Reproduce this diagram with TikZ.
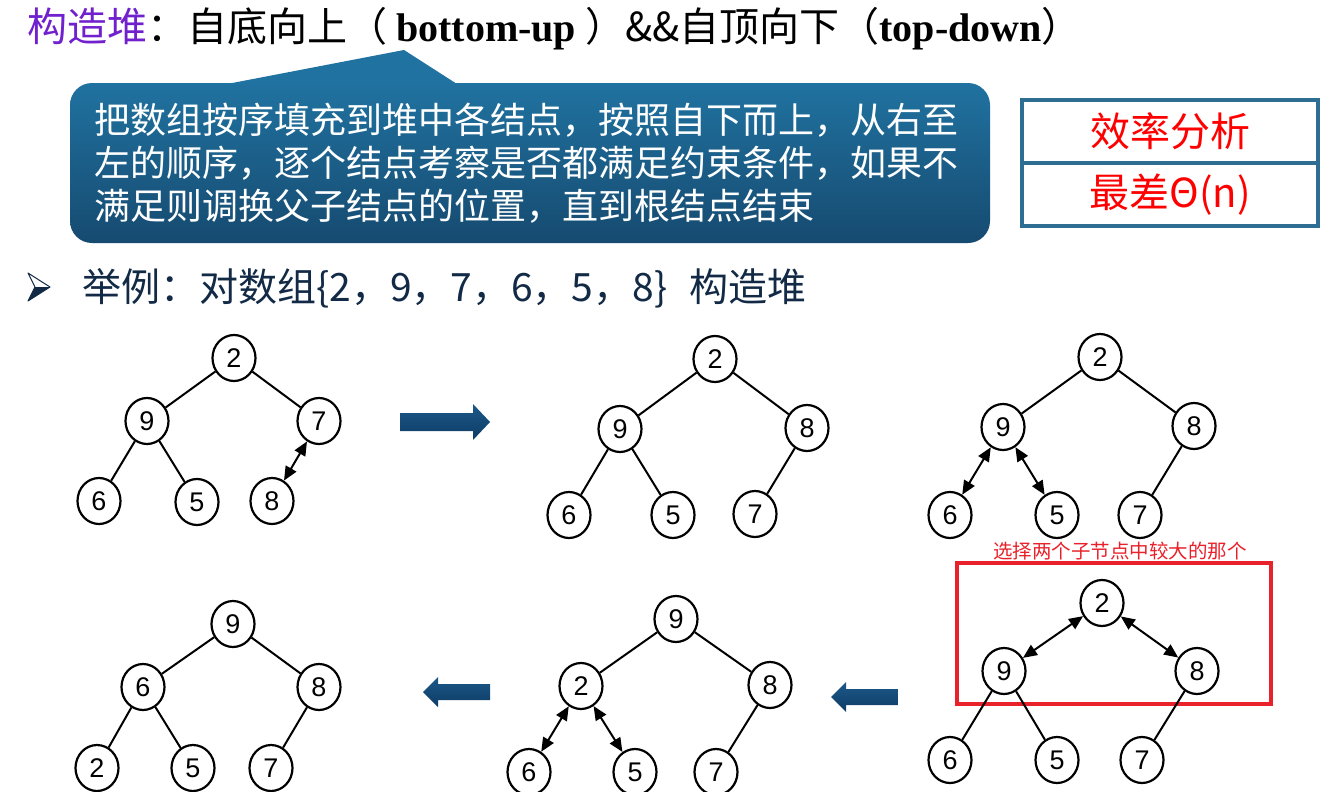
\documentclass[tikz,border=0pt]{standalone}
\usepackage{fontspec}
\setmainfont{Noto Sans CJK SC}
\newfontfamily\serifbold{Liberation Serif}
\newfontfamily\digitfont{Liberation Sans}
\usetikzlibrary{arrows.meta,shapes.geometric,positioning}
\definecolor{titlepurple}{RGB}{112,32,204}
\definecolor{callouttop}{RGB}{32,114,160}
\definecolor{calloutbottom}{RGB}{22,74,112}
\definecolor{boxblue}{RGB}{46,110,146}
\definecolor{navytext}{RGB}{18,42,70}
\definecolor{arrowtop}{RGB}{28,88,136}
\definecolor{arrowbottom}{RGB}{14,60,102}
\definecolor{markred}{RGB}{232,33,42}
\begin{document}
\begin{tikzpicture}[
	x=1pt, y=-1pt,
	heapnode/.style={shape=ellipse, draw=black, line width=2.2pt, minimum width=43pt, minimum height=46pt, inner sep=0pt, font=\digitfont\fontsize{27}{27}\selectfont},
	treeline/.style={line width=2pt},
	swapline/.style={line width=2pt, {Triangle[length=14pt,width=12pt]}-{Triangle[length=14pt,width=12pt]}},
	effbox/.style={shape=rectangle, draw=boxblue, line width=4.5pt, outer sep=0pt, minimum width=296pt, minimum height=63pt, text=red, font=\fontsize{40}{42}\selectfont},
	bluearrow/.style={top color=arrowtop, bottom color=arrowbottom, draw=none},
]
\useasboundingbox (0,0) rectangle (1338,792);

\node[anchor=base west, inner sep=0pt, font=\fontsize{40}{46}\selectfont] (title) at (27,42) {\textcolor{titlepurple}{构造堆}：自底向上（ {\serifbold\bfseries bottom-up} ）\&\&自顶向下（{\serifbold\bfseries top-down}）};

\shade[top color=callouttop, bottom color=calloutbottom, rounded corners=22pt] (70,83) rectangle (990,243);
\fill[callouttop] (227,84) -- (404,50) -- (457,84) -- cycle;
\node[anchor=north west, inner sep=0pt, align=left, text=white, font=\fontsize{36}{43}\selectfont] (note) at (94,103) {把数组按序填充到堆中各结点，按照自下而上，从右至\\左的顺序，逐个结点考察是否都满足约束条件，如果不\\满足则调换父子结点的位置，直到根结点结束};

\node[effbox] (effhead) at (1170,131.5) {效率分析};
\node[effbox, below=0pt of effhead] (effval) {最差Θ(n)};

\draw[navytext, line width=1pt, line join=round] (28,273) -- (50,287) -- (28,301) -- (35,287) -- cycle;
\fill[navytext] (35,287) -- (50,287) -- (28,301) -- cycle;
\node[anchor=base west, inner sep=0pt, text=navytext, font=\fontsize{39}{42}\selectfont] (example) at (82,301) {举例：对数组\{2，9，7，6，5，8\}\hspace{22pt}构造堆};

\node[heapnode] (a2) at (234,358) {2};
\node[heapnode] (a9) at (147,421) {9};
\node[heapnode] (a7) at (319,421) {7};
\node[heapnode] (a6) at (99,501) {6};
\node[heapnode] (a5) at (197,502) {5};
\node[heapnode] (a8) at (272,501) {8};
\draw[treeline] (a2) -- (a9);
\draw[treeline] (a2) -- (a7);
\draw[treeline] (a9) -- (a6);
\draw[treeline] (a9) -- (a5);
\draw[swapline] (a7) -- (a8);

\shade[bluearrow] (400,413) -- (473,413) -- (473,404) -- (490,422) -- (473,440) -- (473,431) -- (400,431) -- cycle;

\node[heapnode] (b2) at (715,359) {2};
\node[heapnode] (b9) at (620,429) {9};
\node[heapnode] (b8) at (807,428) {8};
\node[heapnode] (b6) at (569,515) {6};
\node[heapnode] (b5) at (673,515) {5};
\node[heapnode] (b7) at (755,514) {7};
\draw[treeline] (b2) -- (b9);
\draw[treeline] (b2) -- (b8);
\draw[treeline] (b9) -- (b6);
\draw[treeline] (b9) -- (b5);
\draw[treeline] (b8) -- (b7);

\node[heapnode] (c2) at (1100,357) {2};
\node[heapnode] (c9) at (1003,427) {9};
\node[heapnode] (c8) at (1194,426) {8};
\node[heapnode] (c6) at (950,515) {6};
\node[heapnode] (c5) at (1057,515) {5};
\node[heapnode] (c7) at (1140,515) {7};
\draw[treeline] (c2) -- (c9);
\draw[treeline] (c2) -- (c8);
\draw[treeline] (c8) -- (c7);
\draw[swapline] (c9) -- (c6);
\draw[swapline] (c9) -- (c5);

\node[text=markred, font=\fontsize{19.5}{20}\selectfont] (hint) at (1120,551) {选择两个子节点中较大的那个};
\draw[markred, line width=4pt] (957,563) rectangle (1271,704);

\node[heapnode] (d2) at (1102,603) {2};
\node[heapnode] (d9) at (1004,671) {9};
\node[heapnode] (d8) at (1197,671) {8};
\node[heapnode] (d6) at (950,760) {6};
\node[heapnode] (d5) at (1057,760) {5};
\node[heapnode] (d7) at (1142,760) {7};
\draw[treeline] (d9) -- (d6);
\draw[treeline] (d9) -- (d5);
\draw[treeline] (d8) -- (d7);
\draw[swapline] (d2) -- (d9);
\draw[swapline] (d2) -- (d8);

\shade[bluearrow] (898,689) -- (846,689) -- (846,682) -- (831,697) -- (846,712) -- (846,705) -- (898,705) -- cycle;

\node[heapnode] (e9) at (676,619) {9};
\node[heapnode] (e2) at (581,686) {2};
\node[heapnode] (e8) at (770,685) {8};
\node[heapnode] (e6) at (529,772) {6};
\node[heapnode] (e5) at (635,772) {5};
\node[heapnode] (e7) at (716,772) {7};
\draw[treeline] (e9) -- (e2);
\draw[treeline] (e9) -- (e8);
\draw[treeline] (e8) -- (e7);
\draw[swapline] (e2) -- (e6);
\draw[swapline] (e2) -- (e5);

\shade[bluearrow] (490,684) -- (438,684) -- (438,677) -- (423,692) -- (438,707) -- (438,700) -- (490,700) -- cycle;

\node[heapnode] (f9) at (233,624) {9};
\node[heapnode] (f6) at (143,687) {6};
\node[heapnode] (f8) at (319,687) {8};
\node[heapnode] (f2) at (97,768) {2};
\node[heapnode] (f5) at (193,768) {5};
\node[heapnode] (f7) at (271,768) {7};
\draw[treeline] (f9) -- (f6);
\draw[treeline] (f9) -- (f8);
\draw[treeline] (f6) -- (f2);
\draw[treeline] (f6) -- (f5);
\draw[treeline] (f8) -- (f7);
\end{tikzpicture}
\end{document}
